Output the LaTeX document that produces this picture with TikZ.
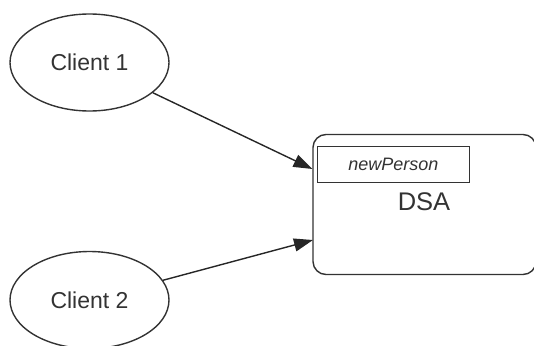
\documentclass[tikz,border=0pt]{standalone}
\usepackage{fontspec}
\setmainfont{Liberation Sans}
\usetikzlibrary{shapes.geometric,arrows.meta}
\begin{document}
\begin{tikzpicture}[x=1pt,y=-1pt,
  ln/.style={draw=black!80, line width=1.4pt},
  client/.style={ln, ellipse, minimum width=159pt, minimum height=97pt, inner sep=0pt,
    font=\fontsize{23}{23}\selectfont, text=black!80},
  dsabox/.style={ln, rectangle, rounded corners=13pt, minimum width=223pt, minimum height=140pt, inner sep=0pt},
  opbox/.style={ln, rectangle, minimum width=152pt, minimum height=36pt, inner sep=0pt,
    font=\fontsize{18}{18}\selectfont\itshape, text=black!80},
  lbl/.style={font=\fontsize{25.5}{25.5}\selectfont, text=black!80, inner sep=0pt},
  arr/.style={draw=black!85, line width=1.4pt, -{Triangle[length=19pt,width=13pt]}}
]
\useasboundingbox (0,0) rectangle (534,345);
\clip (0,0) rectangle (534,345);
\node[client] (c1) at (89.5,62.5) {Client 1};
\node[client] (c2) at (89.5,300) {Client 2};
\node[dsabox] (dsa) at (424.5,204.5) {};
\node[opbox] (np) at (393.3,164.7) {newPerson};
\node[lbl] (dsalbl) at (424,202) {DSA};
\coordinate (t1) at (312.5,169);
\coordinate (t2) at (313,240);
\draw[arr] (c1) -- (t1);
\draw[arr] (c2) -- (t2);
\end{tikzpicture}
\end{document}
